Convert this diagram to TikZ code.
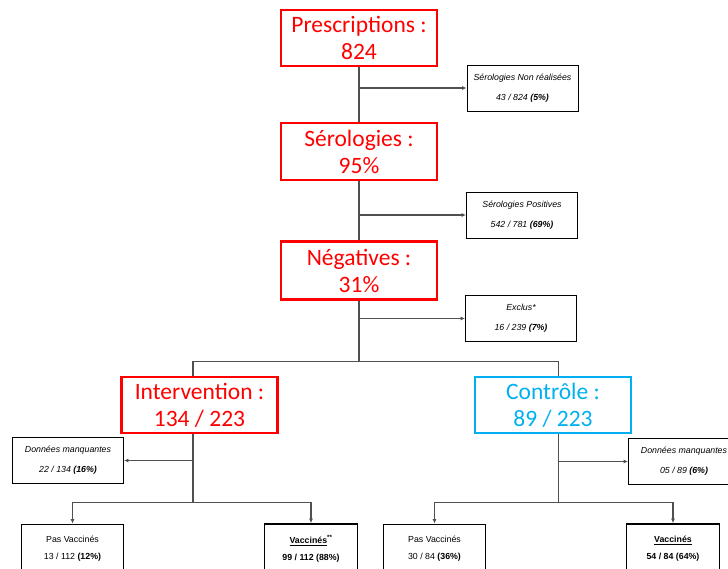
\documentclass[tikz,border=0pt]{standalone}
\usepackage{fontspec}
\setmainfont{Liberation Sans}
\newfontfamily\calibri{Carlito}
\usetikzlibrary{arrows.meta}
\definecolor{stagered}{RGB}{255,0,0}
\definecolor{stageblue}{RGB}{0,176,240}
\definecolor{linkgray}{RGB}{80,80,80}

\tikzset{
  stage/.style={draw=stagered, line width=2.8pt, text=stagered,
    font=\calibri\fontsize{23.5}{27}\selectfont, align=center,
    minimum width=156pt, minimum height=56pt, inner sep=0pt},
  sidebox/.style={draw=black, line width=0.9pt, align=center,
    font=\fontsize{8.8}{20}\selectfont\itshape,
    minimum width=111pt, minimum height=46pt, inner sep=0pt},
  leafbox/.style={draw=black, line width=0.9pt, align=center,
    font=\fontsize{8.8}{17}\selectfont,
    minimum height=50pt, inner sep=0pt},
  link/.style={draw=linkgray, line width=1.5pt},
  arrowlink/.style={link, -{Latex[length=4.5pt,width=4pt]}},
}

\begin{document}
\begin{tikzpicture}[x=1pt,y=-1pt]
\useasboundingbox (0,0) rectangle (728,569);
\clip (0,0) rectangle (728,569);

% main column
\node[stage] (presc) at (359,38) {Prescriptions :\\824};
\node[stage, minimum height=57pt] (sero) at (359,151.5) {Sérologies :\\95\%};
\node[stage, minimum height=58pt] (neg) at (359,270.5) {Négatives :\\31\%};

% exclusions along the column
\node[sidebox] (s1) at (522.5,88) {Sérologies Non réalisées\\43 / 824 \textbf{(5\%)}};
\node[sidebox] (s2) at (522,215) {Sérologies Positives\\542 / 781 \textbf{(69\%)}};
\node[sidebox] (s3) at (521,318.5) {Exclus*\\16 / 239 \textbf{(7\%)}};

% randomised arms
\node[stage, minimum height=56pt] (interv) at (199.5,405) {Intervention :\\134 / 223};
\node[stage, draw=stageblue, text=stageblue, minimum height=56pt] (ctrl) at (553,405) {Contrôle :\\89 / 223};

\node[sidebox] (dmL) at (68,460.5) {Données manquantes\\22 / 134 \textbf{(16\%)}};
\node[sidebox] (dmR) at (684,461.5) {Données manquantes\\05 / 89 \textbf{(6\%)}};

% vaccination outcome per arm
\node[leafbox, minimum width=102pt] (pvL) at (72.5,549) {Pas Vaccinés\\13 / 112 \textbf{(12\%)}};
\node[leafbox, minimum width=93pt, line width=1.6pt, font=\fontsize{8.8}{17}\selectfont\bfseries] (vL) at (311,549)
  {\underline{Vaccinés}\textsuperscript{**}\\99 / 112 (88\%)};
\node[leafbox, minimum width=102pt] (pvR) at (434.5,549) {Pas Vaccinés\\30 / 84 \textbf{(36\%)}};
\node[leafbox, minimum width=93pt, line width=1.6pt, font=\fontsize{8.8}{17}\selectfont\bfseries] (vR) at (673,549)
  {\underline{Vaccinés}\\54 / 84 (64\%)};

% column trunk and side arrows
\draw[link] (presc.south) -- (sero.north);
\draw[link] (sero.south) -- (neg.north);
\draw[arrowlink] (presc.south |- s1.west) -- (s1.west);
\draw[arrowlink] (sero.south |- s2.west) -- (s2.west);
\draw[arrowlink] (neg.south |- s3.west) -- (s3.west);

% split into the two arms
\path (neg.south) ++(0,60.5) coordinate (split);
\draw[link] (neg.south) -- (split);
\draw[link] (split) -| ([xshift=-6.5pt]interv.north);
\draw[link] (split) -| ([xshift=5.5pt]ctrl.north);

% intervention arm
\path ([xshift=-6.5pt]interv.south) ++(0,68) coordinate (jL);
\draw[link] ([xshift=-6.5pt]interv.south) -- (jL);
\draw[arrowlink] (jL |- dmL.east) -- (dmL.east);
\draw[arrowlink] (jL) -| (pvL.north);
\draw[arrowlink] (jL) -| (vL.north);

% control arm
\path ([xshift=5.5pt]ctrl.south) ++(0,68) coordinate (jR);
\draw[link] ([xshift=5.5pt]ctrl.south) -- (jR);
\draw[arrowlink] (jR |- dmR.west) -- (dmR.west);
\draw[arrowlink] (jR) -| (pvR.north);
\draw[arrowlink] (jR) -| (vR.north);
\end{tikzpicture}
\end{document}
